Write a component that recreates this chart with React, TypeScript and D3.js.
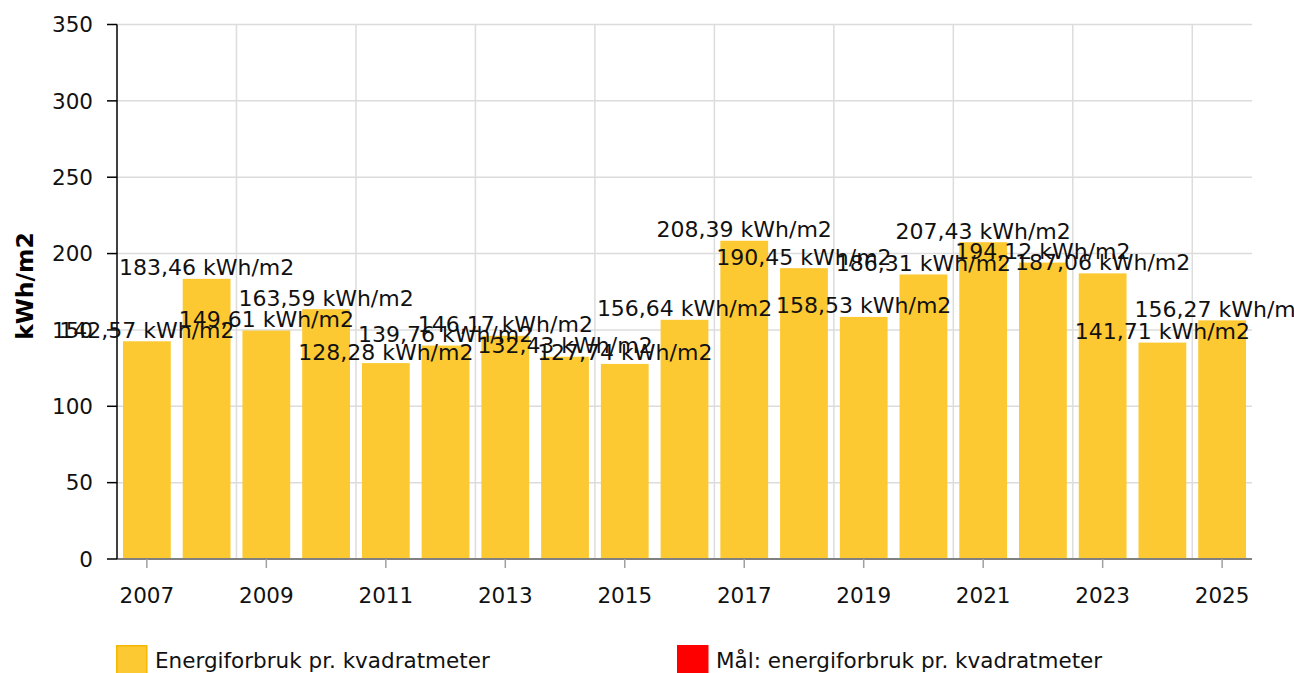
import { useEffect, useRef } from "react";
import * as d3 from "d3";

const years = [
  "2007", "2008", "2009", "2010", "2011", "2012", "2013", "2014", "2015", "2016",
  "2017", "2018", "2019", "2020", "2021", "2022", "2023", "2024", "2025",
];
const energy = [
  142.57, 183.46, 149.61, 163.59, 128.28, 139.76, 146.17, 132.43, 127.74, 156.64,
  208.39, 190.45, 158.53, 186.31, 207.43, 194.12, 187.06, 141.71, 156.27,
];
const yTicks = [0, 50, 100, 150, 200, 250, 300, 350];
const xTickYears = ["2007", "2009", "2011", "2013", "2015", "2017", "2019", "2021", "2023", "2025"];
const legendItems = ["Energiforbruk pr. kvadratmeter", "Mål: energiforbruk pr. kvadratmeter"];

const App = () => {
  const svgRef = useRef<SVGSVGElement>(null);

  useEffect(() => {
    const svg = d3.select(svgRef.current);
    svg.selectAll("*").remove();

    const width = 1294;
    const height = 673;
    const margin = { top: 24.5, right: 42, bottom: 114, left: 117 };
    const font = "'DejaVu Sans', Verdana, sans-serif";

    const x = d3.scaleBand<string>().domain(years).range([margin.left, width - margin.right]).paddingInner(0.2).paddingOuter(0.1);
    const y = d3.scaleLinear().domain([0, 350]).range([height - margin.bottom, margin.top]);
    const step = x.step();

    // grid
    svg.append("g").selectAll("line").data(yTicks.filter((t) => t > 0)).join("line")
      .attr("x1", margin.left).attr("x2", width - margin.right)
      .attr("y1", (d) => y(d)).attr("y2", (d) => y(d))
      .attr("stroke", "#dcdcdc").attr("stroke-width", 1.5);
    svg.append("g").selectAll("line").data(xTickYears.slice(1)).join("line")
      .attr("x1", (d) => (x(d) as number) - step * 0.1).attr("x2", (d) => (x(d) as number) - step * 0.1)
      .attr("y1", margin.top).attr("y2", y(0))
      .attr("stroke", "#dcdcdc").attr("stroke-width", 1.5);

    // bars
    svg.append("g").selectAll("rect").data(energy).join("rect")
      .attr("x", (_, i) => x(years[i]) as number)
      .attr("width", x.bandwidth())
      .attr("y", (d) => y(d))
      .attr("height", (d) => y(0) - y(d))
      .attr("fill", "#fcc932");

    // x axis
    const xAxis = svg.append("g");
    xAxis.append("line").attr("x1", margin.left).attr("x2", width - margin.right)
      .attr("y1", y(0)).attr("y2", y(0)).attr("stroke", "#808080").attr("stroke-width", 2);
    xAxis.selectAll("line.tick").data(xTickYears).join("line").attr("class", "tick")
      .attr("x1", (d) => (x(d) as number) + x.bandwidth() / 2).attr("x2", (d) => (x(d) as number) + x.bandwidth() / 2)
      .attr("y1", y(0)).attr("y2", y(0) + 9).attr("stroke", "#a0a0a0").attr("stroke-width", 1.5);
    xAxis.selectAll("text").data(xTickYears).join("text")
      .attr("x", (d) => (x(d) as number) + x.bandwidth() / 2).attr("y", 603)
      .attr("text-anchor", "middle").attr("font-family", font).attr("font-size", 21.5).attr("fill", "#111")
      .text((d) => d);

    // y axis
    const yAxis = svg.append("g");
    yAxis.append("line").attr("x1", margin.left).attr("x2", margin.left)
      .attr("y1", margin.top).attr("y2", y(0)).attr("stroke", "#000").attr("stroke-width", 1.5);
    yAxis.selectAll("line.tick").data(yTicks).join("line").attr("class", "tick")
      .attr("x1", margin.left - 10).attr("x2", margin.left)
      .attr("y1", (d) => y(d)).attr("y2", (d) => y(d)).attr("stroke", "#000").attr("stroke-width", 1.5);
    yAxis.selectAll("text").data(yTicks).join("text")
      .attr("x", 93).attr("y", (d) => y(d)).attr("dy", "0.36em")
      .attr("text-anchor", "end").attr("font-family", font).attr("font-size", 21.5).attr("fill", "#111")
      .text((d) => d);
    svg.append("text")
      .attr("transform", `translate(33,286) rotate(-90)`)
      .attr("text-anchor", "middle").attr("font-family", font).attr("font-size", 23.5).attr("font-weight", "bold")
      .text("kWh/m2");

    // value labels
    svg.append("g").selectAll("text").data(energy).join("text")
      .attr("x", (_, i) => (x(years[i]) as number) + x.bandwidth() / 2)
      .attr("y", (d) => y(d) - 3.5)
      .attr("text-anchor", "middle").attr("font-family", font).attr("font-size", 22).attr("fill", "#111")
      .text((d) => `${d3.format(".2f")(d).replace(".", ",")} kWh/m2`);

    // legend
    const colors = ["#fcc932", "#ff0000"];
    const strokes = ["#f5b800", "#ff0000"];
    const legendX = [116, 677];
    const legend = svg.append("g").selectAll("g").data(legendItems).join("g")
      .attr("transform", (_, i) => `translate(${legendX[i]},645)`);
    legend.append("rect").attr("x", 0.75).attr("y", 0.75).attr("width", 30).attr("height", 30)
      .attr("fill", (_, i) => colors[i]).attr("stroke", (_, i) => strokes[i]).attr("stroke-width", 1.5);
    legend.append("text").attr("x", 39).attr("y", 23)
      .attr("font-family", font).attr("font-size", 21.5).attr("fill", "#111")
      .text((d) => d);
  }, []);

  return <svg ref={svgRef} width={1294} height={673} style={{ position: "absolute", left: 0, top: 0 }}></svg>;
};

export default App;
